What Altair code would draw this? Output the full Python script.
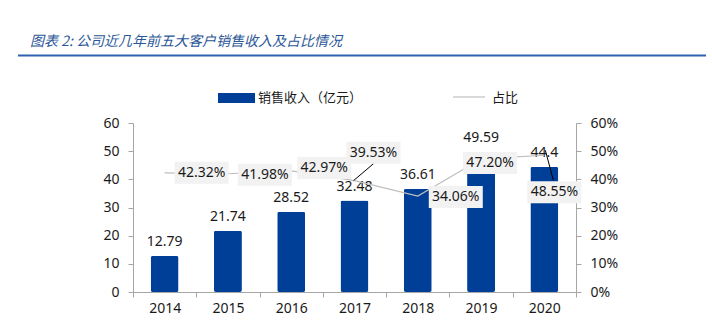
import altair as alt
import pandas as pd

# ---------------- data ----------------
years = ['2014', '2015', '2016', '2017', '2018', '2019', '2020']
revenue = [12.79, 21.74, 28.52, 32.48, 36.61, 49.59, 44.4]
share = [0.4232, 0.4198, 0.4297, 0.3953, 0.3406, 0.4720, 0.4855]
rev_labels = ['12.79', '21.74', '28.52', '32.48', '36.61', '49.59', '44.4']
share_labels = ['42.32%', '41.98%', '42.97%', '39.53%', '34.06%', '47.20%', '48.55%']
title_text = '图表 2:  公司近几年前五大客户销售收入及占比情况'
legend_bar = '销售收入（亿元）'
legend_line = '占比'

# ---------------- layout (pixels) ----------------
W, H = 443, 169
PAD_L, PAD_T, PAD_R, PAD_B = 133, 123, 136, 33
label_dx = [37, 37, 33, 19, 38, 9, 10]
label_dy = [0, 1, -3, -28, 1, 4, 37]
leaders = {'2017': 'M-0.1,0 L1.9,-1.7', '2020': 'M0.1,-0.5 L0.9,2.5'}

FONT = 'Noto Sans'
CJK = 'Noto Sans CJK SC'
BAR_COLOR = '#003f98'
AX_COLOR = '#a6a6a6'
TXT = '#1a1a1a'
FS = 14
BOX_PATH = 'M-2.7,-1.1 L2.7,-1.1 L2.7,1.1 L-2.7,1.1 Z'

df = pd.DataFrame({'year': years, 'revenue': revenue, 'share': share,
                   'rev_label': rev_labels, 'share_label': share_labels})

xenc = alt.X('year:N', scale=alt.Scale(paddingInner=0, paddingOuter=0),
             axis=alt.Axis(title=None, labelAngle=0, tickBand='extent', tickSize=5,
                           domainColor=AX_COLOR, tickColor=AX_COLOR,
                           labelFont=FONT, labelFontSize=FS, labelColor=TXT,
                           labelPadding=4))

yrev = alt.Y('revenue:Q', scale=alt.Scale(domain=[0, 60]),
             axis=alt.Axis(title=None, values=[0, 10, 20, 30, 40, 50, 60], grid=False,
                           domainColor=AX_COLOR, tickColor=AX_COLOR, tickSize=5,
                           labelFont=FONT, labelFontSize=FS, labelColor=TXT,
                           labelPadding=9))

yshare = alt.Y('share:Q', scale=alt.Scale(domain=[0, 0.6]),
               axis=alt.Axis(title=None, orient='right', format='.0%',
                             values=[0, 0.1, 0.2, 0.3, 0.4, 0.5, 0.6], grid=False,
                             domainColor=AX_COLOR, tickColor=AX_COLOR, tickSize=5,
                             labelFont=FONT, labelFontSize=FS, labelColor=TXT,
                             labelPadding=9))

base = alt.Chart(df)

bars = base.mark_bar(size=28, color=BAR_COLOR, cornerRadius=2).encode(x=xenc, y=yrev)

bar_text = base.mark_text(dy=-14, font=FONT, fontSize=FS, color=TXT).encode(
    x=xenc, y=yrev, text='rev_label:N')

one = pd.DataFrame({'k': [0]})
deco = [
    alt.Chart(one).mark_text(align='left', baseline='middle', font=CJK, fontSize=14,
                             fontStyle='italic', color='#2b5797').encode(
        x=alt.value(-103), y=alt.value(-81), text=alt.value(title_text)),
    alt.Chart(one).mark_rule(color='#2e62b0', strokeWidth=2).encode(
        x=alt.value(-115), x2=alt.value(573), y=alt.value(-67.5)),
    alt.Chart(one).mark_rule(color=BAR_COLOR, strokeWidth=10).encode(
        x=alt.value(85), x2=alt.value(122), y=alt.value(-25)),
    alt.Chart(one).mark_text(align='left', baseline='middle', font=CJK, fontSize=13,
                             color=TXT).encode(
        x=alt.value(125), y=alt.value(-25), text=alt.value(legend_bar)),
    alt.Chart(one).mark_rule(color='#bfbfbf', strokeWidth=1.2).encode(
        x=alt.value(320), x2=alt.value(352), y=alt.value(-26)),
    alt.Chart(one).mark_text(align='left', baseline='middle', font=CJK, fontSize=13,
                             color=TXT).encode(
        x=alt.value(359), y=alt.value(-25), text=alt.value(legend_line)),
]

rev_layer = alt.layer(bars, bar_text)

line = base.mark_line(color='#bfbfbf', strokeWidth=1.2).encode(x=xenc, y=yshare)

share_layers = [line]
for yr, path in leaders.items():
    share_layers.append(
        base.transform_filter(alt.datum.year == yr).mark_point(
            shape=path, size=400, filled=False, color='black', strokeWidth=1,
            opacity=1).encode(x=xenc, y=yshare))
for i, yr in enumerate(years):
    sub = base.transform_filter(alt.datum.year == yr)
    share_layers.append(
        sub.mark_point(shape=BOX_PATH, size=400, filled=True, color='#f2f2f2',
                       opacity=1, xOffset=label_dx[i], yOffset=label_dy[i]).encode(
            x=xenc, y=yshare))
    share_layers.append(
        sub.mark_text(font=FONT, fontSize=FS, color=TXT, baseline='middle',
                      dx=label_dx[i], dy=label_dy[i]).encode(
            x=xenc, y=yshare, text='share_label:N'))

share_layer = alt.layer(*share_layers)

chart = alt.layer(rev_layer, share_layer, *deco).resolve_scale(y='independent').properties(
    width=W, height=H,
    autosize=alt.AutoSizeParams(type='none'),
    padding={'left': PAD_L, 'top': PAD_T, 'right': PAD_R, 'bottom': PAD_B},
    background='white',
).configure_view(stroke=None)

chart.save('out.html', embed_options={'renderer': 'svg', 'actions': False})
